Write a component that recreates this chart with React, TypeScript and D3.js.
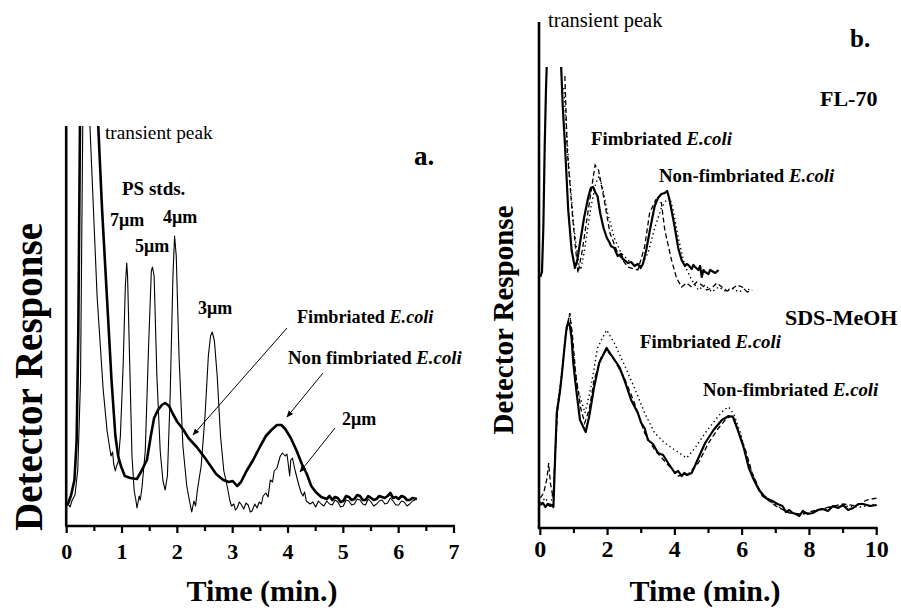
import React from "react";
import * as d3 from "d3";

// ---------- Panel a data (time in min, detector response arbitrary units) ----------
const A_X_TICKS = [0, 0.5, 1, 1.5, 2, 2.5, 3, 3.5, 4, 4.5, 5, 5.5, 6, 6.5, 7];
const A_X_LABELS = [0, 1, 2, 3, 4, 5, 6, 7];

// Bold trace: Fimbriated / Non fimbriated E.coli
const A_ECOLI: [number, number][] = [
  [0.0, 21], [0.03, 23], [0.08, 31], [0.14, 46], [0.18, 86], [0.21, 196], [0.24, 400], [0.3, 700],
  [0.45, 700], [0.57, 400], [0.64, 316], [0.72, 236], [0.81, 146], [0.88, 90], [0.93, 70],
  [0.98, 60], [1.05, 50], [1.15, 48], [1.27, 47], [1.35, 55], [1.45, 66], [1.52, 90], [1.58, 108],
  [1.65, 116], [1.72, 121], [1.78, 123], [1.85, 120], [1.92, 112], [2.0, 104], [2.1, 97],
  [2.2, 88], [2.35, 79], [2.5, 68], [2.6, 60], [2.7, 52], [2.83, 46], [2.93, 44], [3.0, 45],
  [3.08, 40], [3.15, 44], [3.25, 55], [3.37, 66], [3.5, 80], [3.6, 90], [3.7, 96], [3.8, 101],
  [3.88, 101], [3.95, 97], [4.05, 88], [4.15, 76], [4.25, 62], [4.34, 52], [4.42, 40], [4.5, 34],
  [4.6, 29], [4.7, 27], [4.75, 30], [4.8, 26], [4.85, 29], [4.9, 28], [4.95, 24], [5.0, 25],
  [5.05, 30], [5.1, 29], [5.15, 26], [5.2, 27], [5.25, 31], [5.3, 30], [5.35, 26], [5.4, 26],
  [5.45, 30], [5.5, 28], [5.55, 26], [5.6, 27], [5.65, 30], [5.7, 29], [5.75, 28], [5.8, 30],
  [5.85, 33], [5.9, 28], [5.95, 29], [6.0, 27], [6.05, 30], [6.1, 29], [6.15, 26], [6.2, 26],
  [6.25, 28], [6.33, 27],
];

// Thin trace: PS standards (7, 5, 4, 3, 2 um)
const A_PS: [number, number][] = [
  [0.0, 21], [0.04, 21], [0.06, 19], [0.1, 26], [0.15, 31], [0.2, 56], [0.25, 146], [0.29, 400],
  [0.33, 700], [0.38, 700], [0.42, 400], [0.55, 229], [0.66, 136], [0.73, 95], [0.8, 70],
  [0.83, 74], [0.85, 62], [0.88, 55], [0.9, 60], [0.93, 64], [0.97, 90], [1.02, 160], [1.06, 240],
  [1.085, 263], [1.1, 250], [1.14, 160], [1.18, 70], [1.22, 35], [1.25, 26], [1.27, 18],
  [1.31, 30], [1.33, 26], [1.36, 38], [1.42, 75], [1.48, 180], [1.53, 255], [1.55, 259],
  [1.58, 250], [1.63, 150], [1.69, 75], [1.74, 45], [1.78, 36], [1.82, 50], [1.87, 130],
  [1.92, 250], [1.95, 290], [1.98, 270], [2.03, 170], [2.1, 80], [2.17, 40], [2.22, 25],
  [2.26, 14], [2.3, 25], [2.33, 20], [2.36, 35], [2.43, 60], [2.5, 110], [2.56, 170], [2.6, 190],
  [2.63, 194], [2.67, 185], [2.72, 150], [2.78, 90], [2.84, 55], [2.9, 40], [2.95, 25],
  [2.98, 20], [3.02, 22], [3.05, 16], [3.08, 18], [3.12, 24], [3.15, 22], [3.2, 17], [3.24, 23],
  [3.28, 21], [3.32, 14], [3.35, 15], [3.4, 22], [3.44, 18], [3.48, 24], [3.52, 22], [3.55, 30],
  [3.6, 33], [3.64, 29], [3.68, 46], [3.72, 44], [3.75, 55], [3.8, 58], [3.82, 62], [3.86, 70],
  [3.9, 73], [3.95, 70], [3.98, 72], [4.0, 64], [4.03, 50], [4.05, 66], [4.08, 68], [4.13, 55],
  [4.2, 40], [4.24, 33], [4.27, 30], [4.3, 34], [4.33, 25], [4.4, 22], [4.45, 24], [4.5, 19],
  [4.55, 25], [4.6, 22], [4.65, 20], [4.7, 25], [4.75, 22], [4.8, 21], [4.85, 26], [4.9, 24],
  [4.95, 19], [5.0, 20], [5.05, 26], [5.1, 25], [5.15, 21], [5.2, 22], [5.25, 27], [5.3, 26],
  [5.35, 22], [5.4, 21], [5.45, 27], [5.5, 24], [5.55, 20], [5.6, 22], [5.65, 25], [5.7, 26],
  [5.75, 22], [5.8, 23], [5.85, 28], [5.9, 25], [5.95, 21], [6.0, 21], [6.05, 25], [6.1, 24],
  [6.15, 20], [6.2, 22], [6.25, 25], [6.3, 26],
];

// ---------- Panel b data ----------
const B_X_TICKS = [0, 1, 2, 3, 4, 5, 6, 7, 8, 9, 10];
const B_X_LABELS = [0, 2, 4, 6, 8, 10];

// FL-70 carrier (offset upper traces)
const B_FL_SOLID: [number, number][] = [
  [0.0, 251], [0.05, 256], [0.09, 300], [0.13, 380], [0.17, 440], [0.19, 461], [0.22, 560],
  [0.3, 700], [0.5, 700], [0.62, 461], [0.67, 420], [0.73, 385], [0.83, 318], [0.93, 278],
  [1.03, 260], [1.1, 268], [1.18, 285], [1.3, 310], [1.42, 330], [1.5, 340], [1.57, 341],
  [1.63, 336], [1.7, 332], [1.78, 315], [1.88, 300], [1.98, 290], [2.05, 286], [2.1, 282],
  [2.2, 280], [2.25, 276], [2.3, 272], [2.4, 274], [2.45, 269], [2.5, 268], [2.6, 265],
  [2.7, 266], [2.8, 262], [2.9, 264], [2.98, 260], [3.05, 264], [3.15, 278], [3.27, 300],
  [3.4, 322], [3.5, 330], [3.6, 334], [3.7, 335], [3.77, 337], [3.83, 330], [3.9, 318],
  [4.0, 300], [4.1, 280], [4.2, 268], [4.3, 262], [4.35, 264], [4.4, 263], [4.5, 259],
  [4.55, 263], [4.6, 261], [4.7, 258], [4.75, 262], [4.8, 251], [4.85, 258], [4.9, 256],
  [5.0, 254], [5.05, 258], [5.1, 257], [5.2, 255], [5.3, 258],
];
const B_FL_DASHED: [number, number][] = [
  [0.73, 452], [0.8, 378], [0.96, 311], [1.12, 255], [1.25, 278], [1.47, 328], [1.63, 363],
  [1.73, 358], [1.9, 328], [2.07, 295], [2.3, 275], [2.6, 261], [2.9, 258], [3.1, 281],
  [3.25, 315], [3.43, 328], [3.6, 325], [3.7, 298], [3.9, 268], [4.05, 250], [4.2, 241],
  [4.35, 245], [4.5, 241], [4.65, 246], [4.8, 243], [4.95, 238], [5.1, 240], [5.25, 245],
  [5.4, 241], [5.55, 237], [5.7, 239], [5.85, 243], [6.0, 241], [6.15, 236], [6.3, 238],
];
const B_FL_DOTTED: [number, number][] = [
  [0.7, 440], [0.85, 360], [1.0, 300], [1.15, 262], [1.2, 258], [1.3, 275], [1.5, 320],
  [1.65, 345], [1.75, 352], [1.85, 340], [2.0, 315], [2.2, 290], [2.4, 275], [2.7, 265],
  [3.0, 262], [3.2, 275], [3.4, 300], [3.6, 320], [3.75, 328], [3.85, 330], [3.95, 318],
  [4.1, 290], [4.3, 262], [4.5, 248], [4.7, 238], [4.9, 243], [5.1, 236], [5.3, 241],
  [5.5, 237], [5.7, 240], [5.9, 236], [6.1, 239], [6.3, 238],
];

// SDS-MeOH carrier (lower traces)
const B_SDS_SOLID: [number, number][] = [
  [0.0, 23], [0.08, 25], [0.15, 21], [0.22, 24], [0.3, 22], [0.36, 23], [0.39, 21], [0.44, 70],
  [0.49, 115], [0.59, 138], [0.66, 160], [0.72, 181], [0.78, 200], [0.83, 206], [0.88, 202],
  [0.93, 190], [0.98, 165], [1.08, 135], [1.18, 108], [1.35, 96], [1.45, 111], [1.6, 141],
  [1.75, 165], [1.97, 180], [2.15, 171], [2.35, 161], [2.5, 148], [2.7, 128], [2.9, 115],
  [3.0, 105], [3.1, 100], [3.2, 88], [3.35, 84], [3.5, 75], [3.65, 73], [3.8, 65], [3.9, 60],
  [4.0, 55], [4.1, 57], [4.2, 52], [4.28, 55], [4.36, 53], [4.5, 55], [4.7, 70], [4.9, 85],
  [5.15, 98], [5.4, 108], [5.6, 112], [5.73, 111], [5.85, 100], [6.05, 80], [6.2, 60],
  [6.35, 48], [6.5, 38], [6.7, 30], [6.9, 27], [7.05, 24], [7.2, 22], [7.3, 16], [7.4, 18],
  [7.5, 15], [7.6, 14], [7.7, 12], [7.8, 17], [7.95, 14], [8.1, 15], [8.25, 18], [8.4, 19],
  [8.55, 17], [8.7, 22], [8.85, 20], [9.0, 23], [9.15, 18], [9.3, 20], [9.45, 24], [9.6, 24],
  [9.8, 22], [10.0, 23],
];
const B_SDS_DASHED: [number, number][] = [
  [0.0, 30], [0.1, 35], [0.2, 50], [0.25, 65], [0.3, 45], [0.38, 30], [0.45, 80], [0.52, 120],
  [0.62, 145], [0.74, 190], [0.87, 215], [0.95, 195], [1.05, 155], [1.2, 120], [1.32, 105],
  [1.45, 118], [1.6, 148], [1.8, 170], [1.97, 178], [2.2, 168], [2.5, 150], [2.8, 125],
  [3.1, 95], [3.4, 78], [3.8, 63], [4.1, 52], [4.4, 54], [4.7, 65], [5.0, 85], [5.3, 100],
  [5.55, 110], [5.7, 112], [5.9, 96], [6.1, 78], [6.3, 55], [6.6, 32], [7.0, 22], [7.4, 15],
  [7.8, 14], [8.2, 18], [8.6, 21], [9.0, 24], [9.4, 22], [9.7, 28], [10.0, 30],
];
const B_SDS_DOTTED: [number, number][] = [
  [0.0, 25], [0.15, 30], [0.3, 22], [0.4, 40], [0.5, 120], [0.6, 145], [0.75, 190], [0.88, 215],
  [0.98, 175], [1.1, 140], [1.33, 115], [1.5, 140], [1.7, 180], [1.97, 198], [2.2, 185],
  [2.5, 163], [2.8, 140], [3.1, 115], [3.4, 95], [3.7, 85], [4.0, 78], [4.35, 70], [4.6, 80],
  [4.9, 95], [5.2, 108], [5.45, 118], [5.6, 121], [5.75, 114], [5.95, 95], [6.2, 63],
  [6.5, 38], [6.9, 25], [7.3, 17], [7.7, 13], [8.1, 16], [8.5, 20], [9.0, 22], [9.5, 21],
  [10.0, 24],
];

const FONT = "'Liberation Serif', 'Times New Roman', serif";

const Mu = ({ n }: { n: string }) => (
  <>
    {n}
    <tspan>μm</tspan>
  </>
);

const Ecoli = ({ pre }: { pre: string }) => (
  <>
    {pre}
    <tspan fontStyle="italic">E.coli</tspan>
  </>
);

export default function App() {
  // Panel a scales
  const xa = d3.scaleLinear().domain([0, 7]).range([66.7, 454]);
  const ya = d3.scaleLinear().domain([0, 400]).range([526, 126]);
  // Panel b scales
  const xb = d3.scaleLinear().domain([0, 10]).range([540.3, 876.7]);
  const yb = d3.scaleLinear().domain([0, 506]).range([528, 22]);

  const la = d3
    .line<[number, number]>()
    .x((d) => xa(d[0]))
    .y((d) => ya(d[1]));
  const lb = d3
    .line<[number, number]>()
    .x((d) => xb(d[0]))
    .y((d) => yb(d[1]));

  const boldTxt = { fontFamily: FONT, fontWeight: 700, fill: "#000" } as const;
  const normTxt = { fontFamily: FONT, fontWeight: 400, fill: "#000" } as const;

  return (
    <svg
      width={901}
      height={608}
      style={{ position: "absolute", left: 0, top: 0, background: "#fff" }}
    >
      <defs>
        <clipPath id="clipA">
          <rect x={60} y={ya(400)} width={400} height={410} />
        </clipPath>
        <clipPath id="clipB">
          <rect x={536} y={yb(461)} width={365} height={480} />
        </clipPath>
        <marker
          id="arr"
          viewBox="0 0 10 10"
          refX={9}
          refY={5}
          markerWidth={7}
          markerHeight={7}
          orient="auto"
          markerUnits="userSpaceOnUse"
        >
          <path d="M0,1 L10,5 L0,9 z" fill="#000" />
        </marker>
      </defs>

      {/* ---------------- Panel a ---------------- */}
      <g clipPath="url(#clipA)">
        <path d={la(A_PS) || ""} fill="none" stroke="#000" strokeWidth={1.1} strokeLinejoin="round" />
        <path d={la(A_ECOLI) || ""} fill="none" stroke="#000" strokeWidth={2.6} strokeLinejoin="round" />
      </g>
      {/* axes */}
      <line x1={xa(0) - 0.5} x2={xa(0) - 0.5} y1={ya(400)} y2={ya(0)} stroke="#000" strokeWidth={2.6} />
      <line x1={xa(0) - 1.5} x2={xa(7) + 1} y1={ya(0)} y2={ya(0)} stroke="#000" strokeWidth={2.6} />
      {A_X_TICKS.map((t) => (
        <line key={"ta" + t} x1={xa(t)} x2={xa(t)} y1={ya(0)} y2={ya(0) + (Number.isInteger(t) ? 7 : 5)} stroke="#000" strokeWidth={2.2} />
      ))}
      {A_X_LABELS.map((t) => (
        <text key={"la" + t} x={xa(t)} y={559} textAnchor="middle" fontSize={22} style={boldTxt}>
          {t}
        </text>
      ))}
      <text x={262} y={601} textAnchor="middle" fontSize={30} style={boldTxt}>
        Time (min.)
      </text>
      <text transform="translate(42,377) rotate(-90)" textAnchor="middle" fontSize={39} style={boldTxt}>
        Detector Response
      </text>

      {/* annotations a */}
      <text x={105} y={139} fontSize={19.3} style={normTxt}>transient peak</text>
      <text x={414} y={165} fontSize={27} style={boldTxt}>a.</text>
      <text x={122} y={195} fontSize={19} style={boldTxt}>PS stds.</text>
      <text x={110} y={226} fontSize={18} style={boldTxt}><Mu n="7" /></text>
      <text x={163} y={223} fontSize={18} style={boldTxt}><Mu n="4" /></text>
      <text x={135} y={252} fontSize={18} style={boldTxt}><Mu n="5" /></text>
      <text x={198} y={314} fontSize={18} style={boldTxt}><Mu n="3" /></text>
      <text x={297} y={323} fontSize={18.2} style={boldTxt}><Ecoli pre="Fimbriated " /></text>
      <text x={288} y={364} fontSize={18.8} style={boldTxt}><Ecoli pre="Non fimbriated " /></text>
      <text x={342} y={425} fontSize={18} style={boldTxt}><Mu n="2" /></text>
      <line x1={287} y1={328} x2={193} y2={435} stroke="#000" strokeWidth={1} markerEnd="url(#arr)" />
      <line x1={323} y1={373} x2={287} y2={417} stroke="#000" strokeWidth={1} markerEnd="url(#arr)" />
      <line x1={335} y1={428} x2={300} y2={472} stroke="#000" strokeWidth={1} markerEnd="url(#arr)" />

      {/* ---------------- Panel b ---------------- */}
      <g clipPath="url(#clipB)">
        <path d={lb(B_FL_DOTTED) || ""} fill="none" stroke="#000" strokeWidth={1.4} strokeDasharray="1.4,3" />
        <path d={lb(B_FL_DASHED) || ""} fill="none" stroke="#000" strokeWidth={1.3} strokeDasharray="5,3" />
        <path d={lb(B_FL_SOLID) || ""} fill="none" stroke="#000" strokeWidth={2.2} strokeLinejoin="round" />
        <path d={lb(B_SDS_DOTTED) || ""} fill="none" stroke="#000" strokeWidth={1.4} strokeDasharray="1.4,3" />
        <path d={lb(B_SDS_DASHED) || ""} fill="none" stroke="#000" strokeWidth={1.3} strokeDasharray="5,3" />
        <path d={lb(B_SDS_SOLID) || ""} fill="none" stroke="#000" strokeWidth={2.2} strokeLinejoin="round" />
      </g>
      <line x1={xb(0) - 1.3} x2={xb(0) - 1.3} y1={yb(506)} y2={yb(0)} stroke="#000" strokeWidth={2.6} />
      <line x1={xb(0) - 2.5} x2={xb(10) + 1} y1={yb(0)} y2={yb(0)} stroke="#000" strokeWidth={2.6} />
      {B_X_TICKS.map((t) => (
        <line key={"tb" + t} x1={xb(t)} x2={xb(t)} y1={yb(0)} y2={yb(0) + (t % 2 === 0 ? 7 : 5)} stroke="#000" strokeWidth={2.2} />
      ))}
      {B_X_LABELS.map((t) => (
        <text key={"lb" + t} x={xb(t)} y={557} textAnchor="middle" fontSize={24} style={boldTxt}>
          {t}
        </text>
      ))}
      <text x={705} y={601} textAnchor="middle" fontSize={30} style={boldTxt}>
        Time (min.)
      </text>
      <text transform="translate(513,320) rotate(-90)" textAnchor="middle" fontSize={29} style={boldTxt}>
        Detector Response
      </text>

      {/* annotations b */}
      <text x={548} y={27} fontSize={20.5} style={normTxt}>transient peak</text>
      <text x={850} y={47} fontSize={25} style={boldTxt}>b.</text>
      <text x={820} y={106} fontSize={22} style={boldTxt}>FL-70</text>
      <text x={591} y={145} fontSize={18.8} style={boldTxt}><Ecoli pre="Fimbriated " /></text>
      <text x={659} y={182} fontSize={18.8} style={boldTxt}><Ecoli pre="Non-fimbriated " /></text>
      <text x={785} y={325} fontSize={22} style={boldTxt}>SDS-MeOH</text>
      <text x={640} y={348} fontSize={18.8} style={boldTxt}><Ecoli pre="Fimbriated " /></text>
      <text x={703} y={396} fontSize={18.8} style={boldTxt}><Ecoli pre="Non-fimbriated " /></text>
    </svg>
  );
}
